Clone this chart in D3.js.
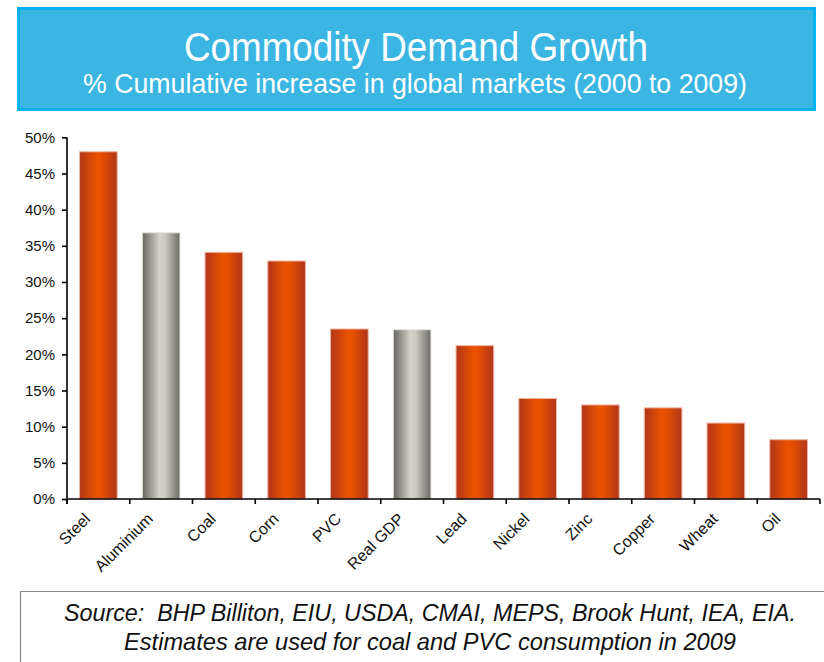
<!DOCTYPE html>
<html>
<head>
<meta charset="utf-8">
<script src="https://cdn.jsdelivr.net/npm/d3@7"></script>
<style>
  html, body { margin: 0; padding: 0; background: #ffffff; }
  svg { display: block; }
</style>
</head>
<body>
<script>
// Cumulative demand growth by commodity, 2000 to 2009 (%)
const categories = ["Steel", "Aluminium", "Coal", "Corn", "PVC", "Real GDP",
                    "Lead", "Nickel", "Zinc", "Copper", "Wheat", "Oil"];
const growth = [48, 36.8, 34.1, 32.9, 23.5, 23.4, 21.2, 13.9, 13.0, 12.6, 10.5, 8.2];
// bars drawn in grey rather than orange
const greyBars = ["Aluminium", "Real GDP"];
const yTicks = [0, 5, 10, 15, 20, 25, 30, 35, 40, 45, 50];

const W = 824, H = 662;
const svg = d3.select("body").append("svg").attr("width", W).attr("height", H);

const narrow = "'Liberation Sans Narrow', 'Arial Narrow', 'Liberation Sans', Arial, sans-serif";

const defs = svg.append("defs");
function barGradient(id, stops) {
  const g = defs.append("linearGradient").attr("id", id)
    .attr("x1", "0%").attr("x2", "100%").attr("y1", "0%").attr("y2", "0%");
  stops.forEach(([o, c]) => g.append("stop").attr("offset", o).attr("stop-color", c));
}
barGradient("gOrange", [["0%", "#b2361a"], ["45%", "#e85200"], ["58%", "#e65000"], ["100%", "#b0361a"]]);
barGradient("gGrey", [["0%", "#66665e"], ["45%", "#d2d2c6"], ["60%", "#cacabe"], ["100%", "#6c6c64"]]);

// Title banner
svg.append("rect")
  .attr("x", 18.5).attr("y", 8.5).attr("width", 796).attr("height", 101)
  .attr("fill", "#3bb6e3").attr("stroke", "#05b1f0").attr("stroke-width", 3);
svg.append("text")
  .attr("x", 416).attr("y", 61)
  .attr("text-anchor", "middle")
  .attr("font-family", narrow)
  .attr("font-size", 40).attr("fill", "#ffffff")
  .attr("textLength", 464).attr("lengthAdjust", "spacingAndGlyphs")
  .text("Commodity Demand Growth");
svg.append("text")
  .attr("x", 415).attr("y", 93)
  .attr("text-anchor", "middle")
  .attr("font-family", narrow)
  .attr("font-size", 28).attr("fill", "#ffffff")
  .attr("textLength", 664).attr("lengthAdjust", "spacingAndGlyphs")
  .text("% Cumulative increase in global markets (2000 to 2009)");

// Scales
const x = d3.scaleBand().domain(categories).range([67, 820])
  .paddingInner(0.4).paddingOuter(0.2);
const y = d3.scaleLinear().domain([0, 50]).range([499, 137.3]);

// Bars
svg.append("g").selectAll("rect")
  .data(categories)
  .join("rect")
  .attr("x", d => x(d))
  .attr("width", x.bandwidth())
  .attr("y", (d, i) => y(growth[i]))
  .attr("height", (d, i) => y(0) - y(growth[i]))
  .attr("fill", d => greyBars.includes(d) ? "url(#gGrey)" : "url(#gOrange)")
  .attr("stroke", d => greyBars.includes(d) ? "#e4e4dc" : "#f2b4a2")
  .attr("stroke-width", 1);

// Y axis
const yAxis = svg.append("g")
  .attr("transform", "translate(67,0)")
  .call(d3.axisLeft(y).tickValues(yTicks).tickFormat(d => d + "%").tickSize(5).tickPadding(7));
yAxis.select(".domain").attr("stroke", "#000").attr("stroke-width", 1.6)
  .attr("d", `M0,${y(50)}V${y(0) + 5}`);
yAxis.selectAll(".tick line").attr("stroke", "#000").attr("stroke-width", 1.6);
yAxis.selectAll(".tick text")
  .attr("font-family", "'Liberation Sans', Arial, sans-serif")
  .attr("font-size", 15).attr("fill", "#111");

// X axis: baseline, boundary ticks, rotated labels
const xAxis = svg.append("g").attr("transform", `translate(0,${y(0)})`)
  .call(d3.axisBottom(x).tickSize(0).tickPadding(0));
xAxis.select(".domain").attr("stroke", "#000").attr("stroke-width", 1.6)
  .attr("d", `M${x.range()[0]},0H${x.range()[1]}`);
const bounds = d3.range(categories.length + 1).map(i => x.range()[0] + i * x.step());
xAxis.selectAll(".bound").data(bounds).join("line")
  .attr("class", "bound")
  .attr("x1", d => d).attr("x2", d => d).attr("y1", 0).attr("y2", 5)
  .attr("stroke", "#000").attr("stroke-width", 1.6);
xAxis.selectAll(".tick text")
  .attr("font-family", "'Liberation Sans', Arial, sans-serif")
  .attr("font-size", 16).attr("fill", "#111")
  .attr("text-anchor", "end")
  .attr("transform", "translate(-15,13) rotate(-45)")
  .attr("dy", "0.7em");

// Source note
svg.append("path")
  .attr("d", `M${W},591.5H20.5V${H}`)
  .attr("fill", "none").attr("stroke", "#8a8a8a").attr("stroke-width", 1.2);
const note = svg.append("g")
  .attr("font-family", narrow)
  .attr("font-style", "italic").attr("font-size", 24).attr("fill", "#111")
  .attr("text-anchor", "middle");
note.append("text").attr("x", 430).attr("y", 621)
  .attr("textLength", 732).attr("lengthAdjust", "spacingAndGlyphs")
  .text("Source:\u00a0 BHP Billiton, EIU, USDA, CMAI, MEPS, Brook Hunt, IEA, EIA.");
note.append("text").attr("x", 430).attr("y", 650)
  .attr("textLength", 612).attr("lengthAdjust", "spacingAndGlyphs")
  .text("Estimates are used for coal and PVC consumption in 2009");
</script>
</body>
</html>
